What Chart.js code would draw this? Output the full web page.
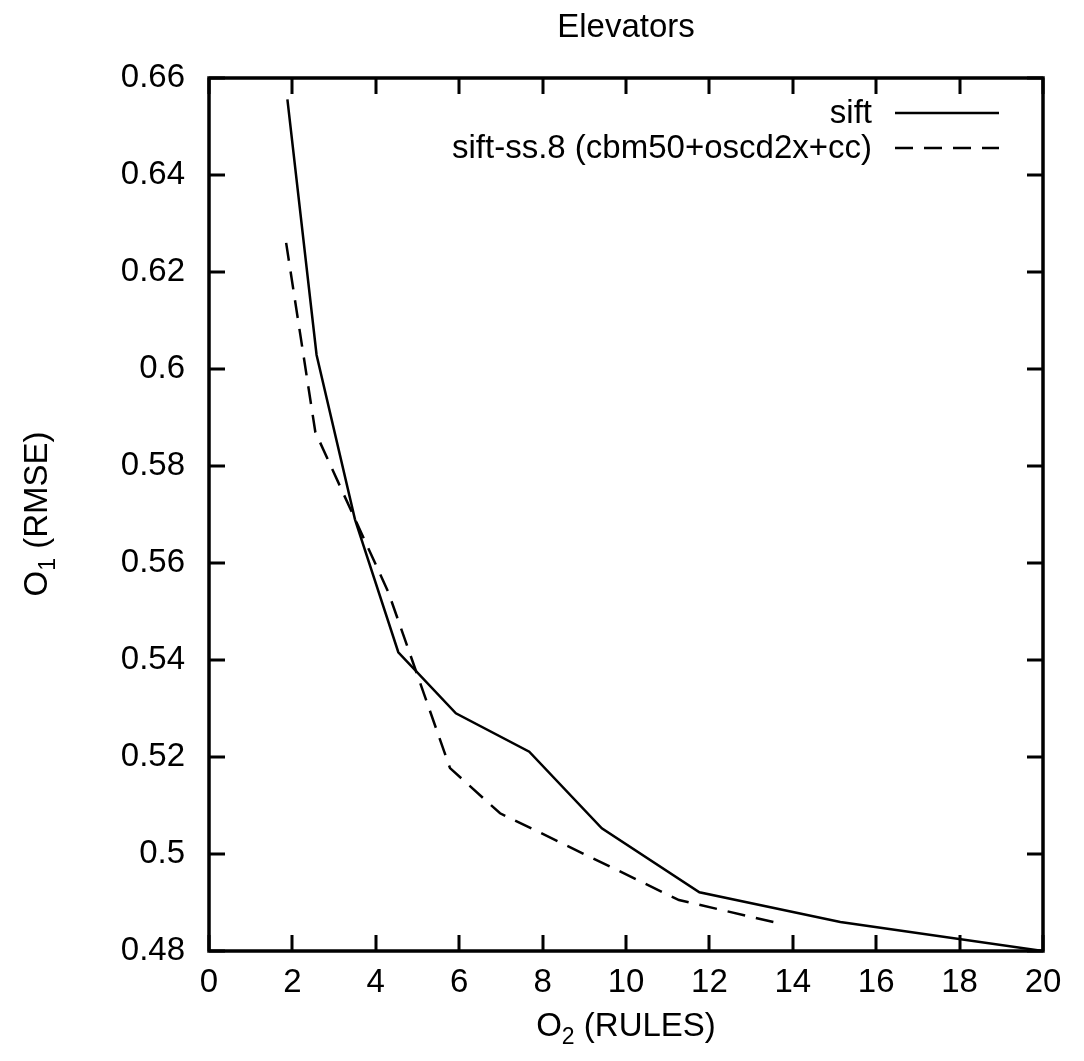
<!DOCTYPE html>
<html>
<head>
<meta charset="utf-8">
<script src="https://cdn.jsdelivr.net/npm/chart.js@4.4.1/dist/chart.umd.min.js"></script>
<style>
  html, body { margin: 0; padding: 0; background: #fff; }
  #wrap { width: 1084px; height: 1061px; position: relative; }
</style>
</head>
<body>
<div id="wrap"><canvas id="c" width="1084" height="1061"></canvas></div>
<script>
// ---- data ----
const chartTitle = "Elevators";
const seriesNames = ["sift", "sift-ss.8 (cbm50+oscd2x+cc)"];
const siftX = [1.88, 2.58, 3.50, 4.54, 5.92, 7.68, 9.42, 11.76, 15.14, 20];
const siftY = [0.6556, 0.6029, 0.569, 0.5416, 0.529, 0.5211, 0.5053, 0.4921, 0.486, 0.48];
const ssX = [1.85, 2.55, 4.3, 5.78, 6.98, 11.27, 13.67];
const ssY = [0.626, 0.587, 0.554, 0.5177, 0.5084, 0.4905, 0.4857];
const xMin = 0, xMax = 20, xStep = 2;
const yMin = 0.48, yMax = 0.66, yStep = 0.02;

const FONT = "'Liberation Sans', Arial, sans-serif";
const FS = 33;
const DASH = [18, 11];

const toPts = (xs, ys) => xs.map((x, i) => ({ x: x, y: ys[i] }));

const framePlugin = {
  id: 'frame',
  afterDraw(chart) {
    const ctx = chart.ctx;
    const a = chart.chartArea;
    const xs = chart.scales.x, ys = chart.scales.y;
    ctx.save();
    ctx.strokeStyle = '#000';
    // inward tick marks on all four sides
    ctx.lineWidth = 3;
    const tl = 16;
    ctx.beginPath();
    xs.ticks.forEach(t => {
      const px = Math.round(xs.getPixelForValue(t.value));
      ctx.moveTo(px, a.bottom); ctx.lineTo(px, a.bottom - tl);
      ctx.moveTo(px, a.top); ctx.lineTo(px, a.top + tl);
    });
    ys.ticks.forEach(t => {
      const py = Math.round(ys.getPixelForValue(t.value));
      ctx.moveTo(a.left, py); ctx.lineTo(a.left + tl, py);
      ctx.moveTo(a.right, py); ctx.lineTo(a.right - tl, py);
    });
    ctx.stroke();
    // frame
    ctx.lineWidth = 3.5;
    ctx.strokeRect(a.left, a.top, a.right - a.left, a.bottom - a.top);

    // title
    ctx.fillStyle = '#000';
    ctx.font = FS + 'px ' + FONT;
    ctx.textAlign = 'center';
    ctx.textBaseline = 'middle';
    ctx.fillText(chartTitle, (a.left + a.right) / 2, 28);

    // legend (text right-aligned, sample line to the right)
    const legendRows = [
      { text: seriesNames[0], y: 113, dash: [] },
      { text: seriesNames[1], y: 148, dash: DASH }
    ];
    legendRows.forEach(r => {
      ctx.textAlign = 'right';
      ctx.textBaseline = 'middle';
      ctx.fillText(r.text, 872, r.y + 1);
      ctx.setLineDash(r.dash);
      ctx.lineWidth = 2.5;
      ctx.beginPath();
      ctx.moveTo(895, r.y); ctx.lineTo(999, r.y);
      ctx.stroke();
      ctx.setLineDash([]);
    });

    // axis titles with subscripts
    function subText(main, sub, rest, cx, cy) {
      ctx.textBaseline = 'alphabetic';
      ctx.textAlign = 'left';
      ctx.font = FS + 'px ' + FONT;
      const w1 = ctx.measureText(main).width;
      const w3 = ctx.measureText(rest).width;
      ctx.font = '23px ' + FONT;
      const w2 = ctx.measureText(sub).width;
      const total = w1 + w2 + w3;
      let x = cx - total / 2;
      const base = cy + 12;
      ctx.font = FS + 'px ' + FONT;
      ctx.fillText(main, x, base); x += w1;
      ctx.font = '23px ' + FONT;
      ctx.fillText(sub, x, base + 8); x += w2;
      ctx.font = FS + 'px ' + FONT;
      ctx.fillText(rest, x, base);
    }
    subText('O', '2', ' (RULES)', (a.left + a.right) / 2, 1024);
    ctx.save();
    ctx.translate(35, 514);
    ctx.rotate(-Math.PI / 2);
    subText('O', '1', ' (RMSE)', 0, 0);
    ctx.restore();
    ctx.restore();
  }
};

new Chart(document.getElementById('c'), {
  type: 'line',
  data: {
    datasets: [
      {
        label: seriesNames[0],
        data: toPts(siftX, siftY),
        borderColor: '#000',
        borderWidth: 2.5,
        pointRadius: 0,
        tension: 0,
        fill: false
      },
      {
        label: seriesNames[1],
        data: toPts(ssX, ssY),
        borderColor: '#000',
        borderWidth: 2.5,
        borderDash: DASH,
        pointRadius: 0,
        tension: 0,
        fill: false
      }
    ]
  },
  options: {
    responsive: false,
    animation: false,
    devicePixelRatio: 1,
    layout: { padding: { top: 78, right: 41, left: 0, bottom: 0 } },
    plugins: { legend: { display: false }, tooltip: { enabled: false }, title: { display: false } },
    scales: {
      x: {
        type: 'linear',
        min: xMin, max: xMax,
        border: { display: false },
        grid: { display: false, drawTicks: false },
        ticks: {
          stepSize: xStep,
          color: '#000',
          font: { family: FONT, size: FS },
          padding: 12,
          maxRotation: 0,
          autoSkip: false
        },
        afterFit(s) { s.height = 110; }
      },
      y: {
        type: 'linear',
        min: yMin, max: yMax,
        border: { display: false },
        grid: { display: false, drawTicks: false },
        ticks: {
          stepSize: yStep,
          color: '#000',
          font: { family: FONT, size: FS },
          padding: 24,
          autoSkip: false,
          callback: v => String(+Number(v).toFixed(2))
        },
        afterFit(s) { s.width = 209; }
      }
    }
  },
  plugins: [framePlugin]
});
</script>
</body>
</html>
